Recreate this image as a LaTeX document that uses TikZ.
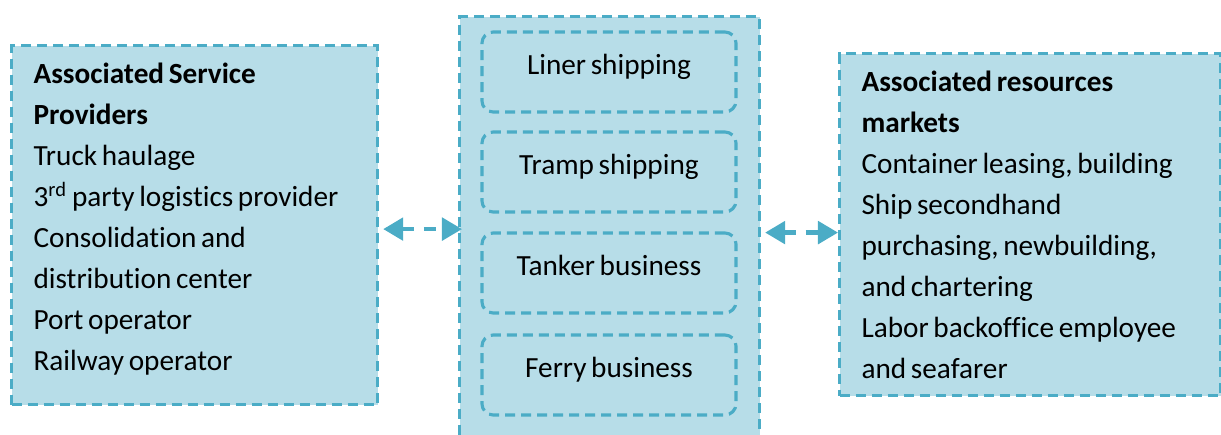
\documentclass[tikz,border=0pt]{standalone}
\usepackage{fontspec}
\setmainfont{Carlito}[Ligatures=NoCommon, WordSpace=0.7]
\usetikzlibrary{arrows.meta}
\definecolor{boxfill}{HTML}{B7DDE8}
\definecolor{boxline}{HTML}{4BACC6}
\tikzset{
  dashbox/.style={draw=boxline, fill=boxfill, line width=1.1pt,
    dash pattern=on 0.125cm off 0.075cm},
  sidebox/.style={dashbox, align=flush left, inner xsep=0.275cm, inner ysep=0pt},
  trade/.style={draw=boxline, line width=1.1pt, dash pattern=on 0.125cm off 0.075cm,
    rounded corners=0.14cm, minimum width=3.175cm, minimum height=1cm, align=center,
    text depth=0.2cm},
  link/.style={draw=boxline, line width=1.5pt, dash pattern=on 0.15cm off 0.12cm,
    {Triangle[length=0.25cm, width=0.28cm]}-{Triangle[length=0.25cm, width=0.28cm]}}
}
\begin{document}
\begin{tikzpicture}[x=0.0125cm, y=-0.0125cm, font=\fontsize{10.4}{14.6}\selectfont]
  \useasboundingbox (0,0) rectangle (1221,435);
  % left: service providers
  \node[sidebox, anchor=north west, minimum width=4.575cm, minimum height=4.4875cm,
    text width=4.025cm, text depth=3.8cm] (asp) at (10,44) {\textbf{Associated Service}\\ \textbf{Providers}\\
    Truck haulage\\ 3\textsuperscript{rd} party logistics provider\\ Consolidation and\\
    distribution center\\ Port operator\\ Railway operator};
  % middle: shipping businesses
  \node[dashbox, anchor=north west, minimum width=3.75cm, minimum height=5.4cm] (ship) at (458,15) {};
  \node[trade] (liner) at (609,72) {Liner shipping};
  \node[trade] (tramp) at (609,172) {Tramp shipping};
  \node[trade] (tanker) at (609,273) {Tanker business};
  \node[trade] (ferry) at (609,375) {Ferry business};
  % right: resources markets
  \node[sidebox, anchor=north west, minimum width=4.7625cm, minimum height=4.275cm,
    text width=4.2125cm] (arm) at (838,52) {\textbf{Associated resources}\\ \textbf{markets}\\
    Container leasing, building\\ Ship secondhand\\ purchasing, newbuilding,\\
    and chartering\\ Labor backoffice employee\\ and seafarer};
  % links
  \draw[link] ([xshift=0.05cm, yshift=-0.05cm]asp.east) -- ([xshift=0.05cm, yshift=-0.05cm]asp.east -| ship.west);
  \draw[link] ([xshift=0.05cm, yshift=-0.1cm]arm.west -| ship.east) -- ([yshift=-0.1cm]arm.west);
\end{tikzpicture}
\end{document}
